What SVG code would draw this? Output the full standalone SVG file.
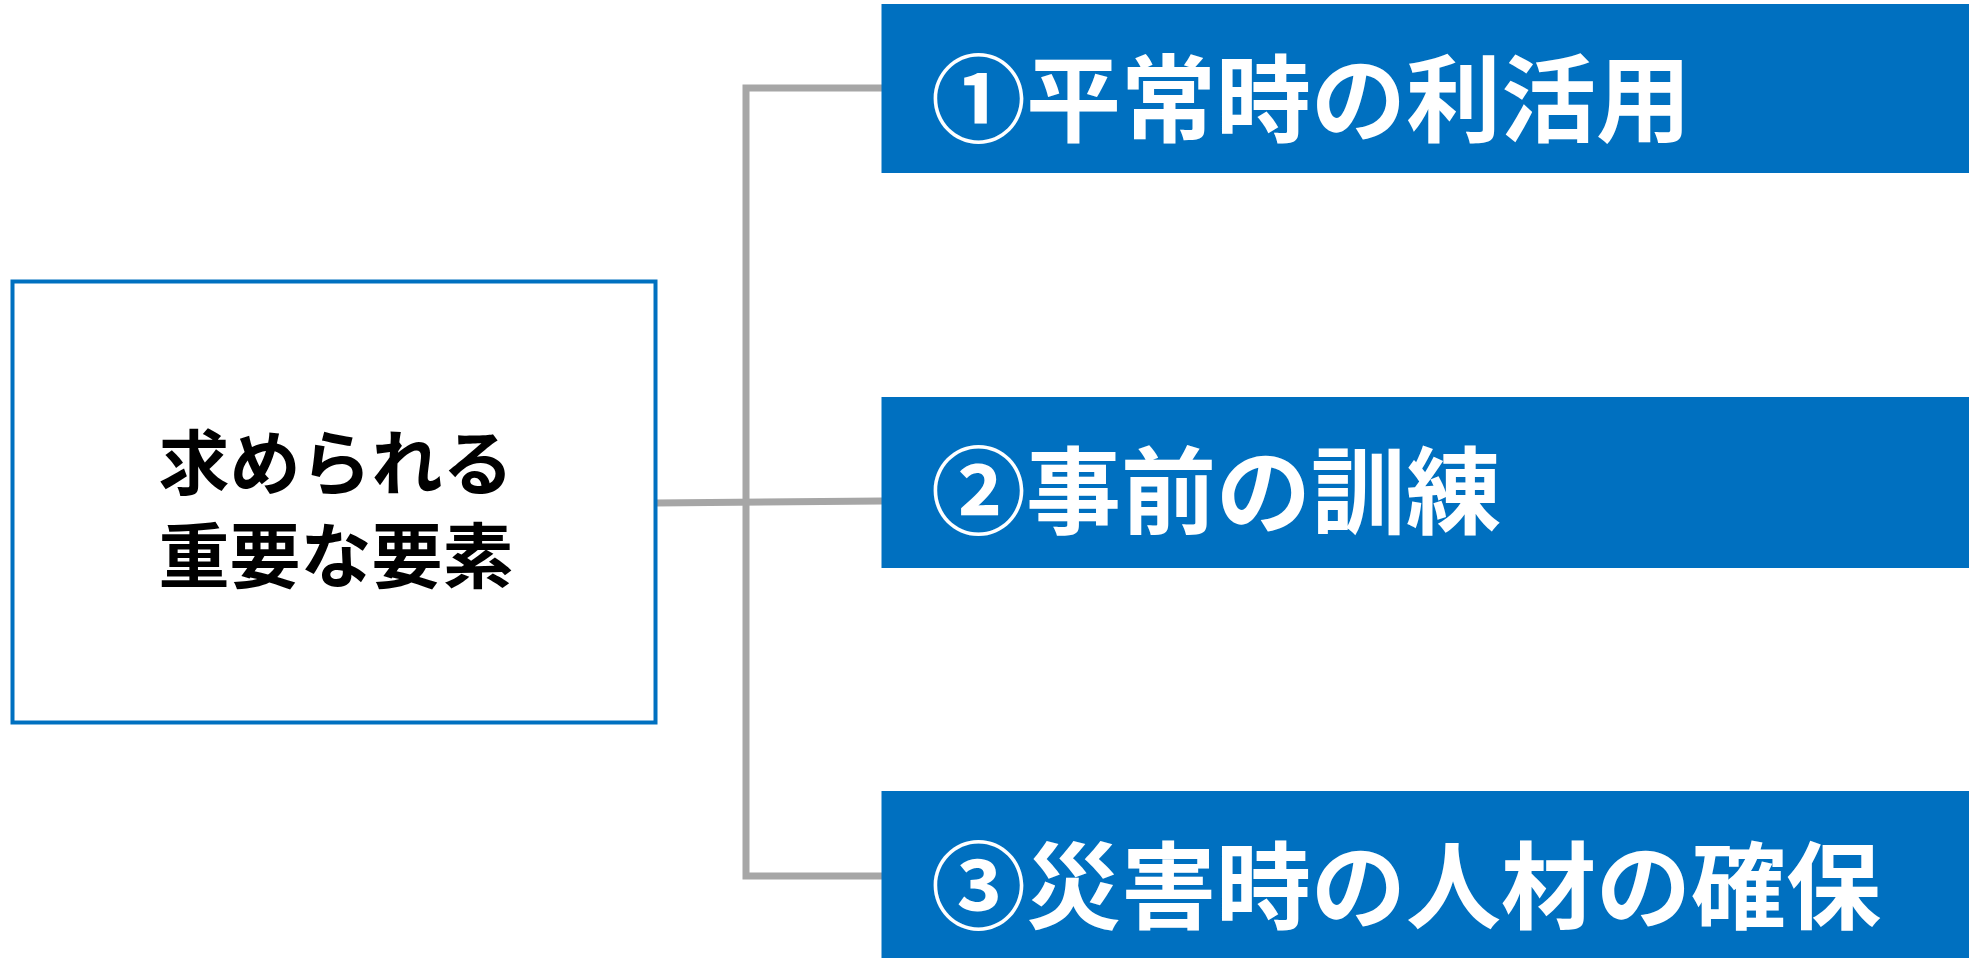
<svg xmlns="http://www.w3.org/2000/svg" width="1969" height="958" viewBox="0 0 1969 958">
<style>
.conn{fill:none;stroke:#A6A6A6;stroke-width:7}
.item{fill:#0070C0}
.itxt{fill:#FFFFFF;font-family:"Noto Sans CJK JP","Noto Sans CJK SC",sans-serif;font-weight:bold;font-size:95px;dominant-baseline:central}
.mtxt{fill:#000000;font-family:"Noto Sans CJK JP","Noto Sans CJK SC",sans-serif;font-weight:bold;font-size:71px;text-anchor:middle}
</style>
<rect width="1969" height="958" fill="#FFFFFF"/>
<g id="connectors">
<path class="conn" d="M882,88 H746 V876 H882"/>
<path class="conn" d="M656,503 L882,501"/>
</g>
<g id="main">
<rect x="12.5" y="281.5" width="643" height="441" fill="#FFFFFF" stroke="#0070C0" stroke-width="4"/>
<text class="mtxt" x="336" y="489">求められる</text>
<text class="mtxt" x="336" y="582">重要な要素</text>
</g>
<g id="item1">
<rect class="item" x="881.5" y="4" width="1088" height="169"/>
<text class="itxt" x="931" y="93">①平常時の利活用</text>
</g>
<g id="item2">
<rect class="item" x="881.5" y="397" width="1088" height="171"/>
<text class="itxt" x="931" y="485">②事前の訓練</text>
</g>
<g id="item3">
<rect class="item" x="881.5" y="791" width="1088" height="167"/>
<text class="itxt" x="931" y="880">③災害時の人材の確保</text>
</g>
</svg>
